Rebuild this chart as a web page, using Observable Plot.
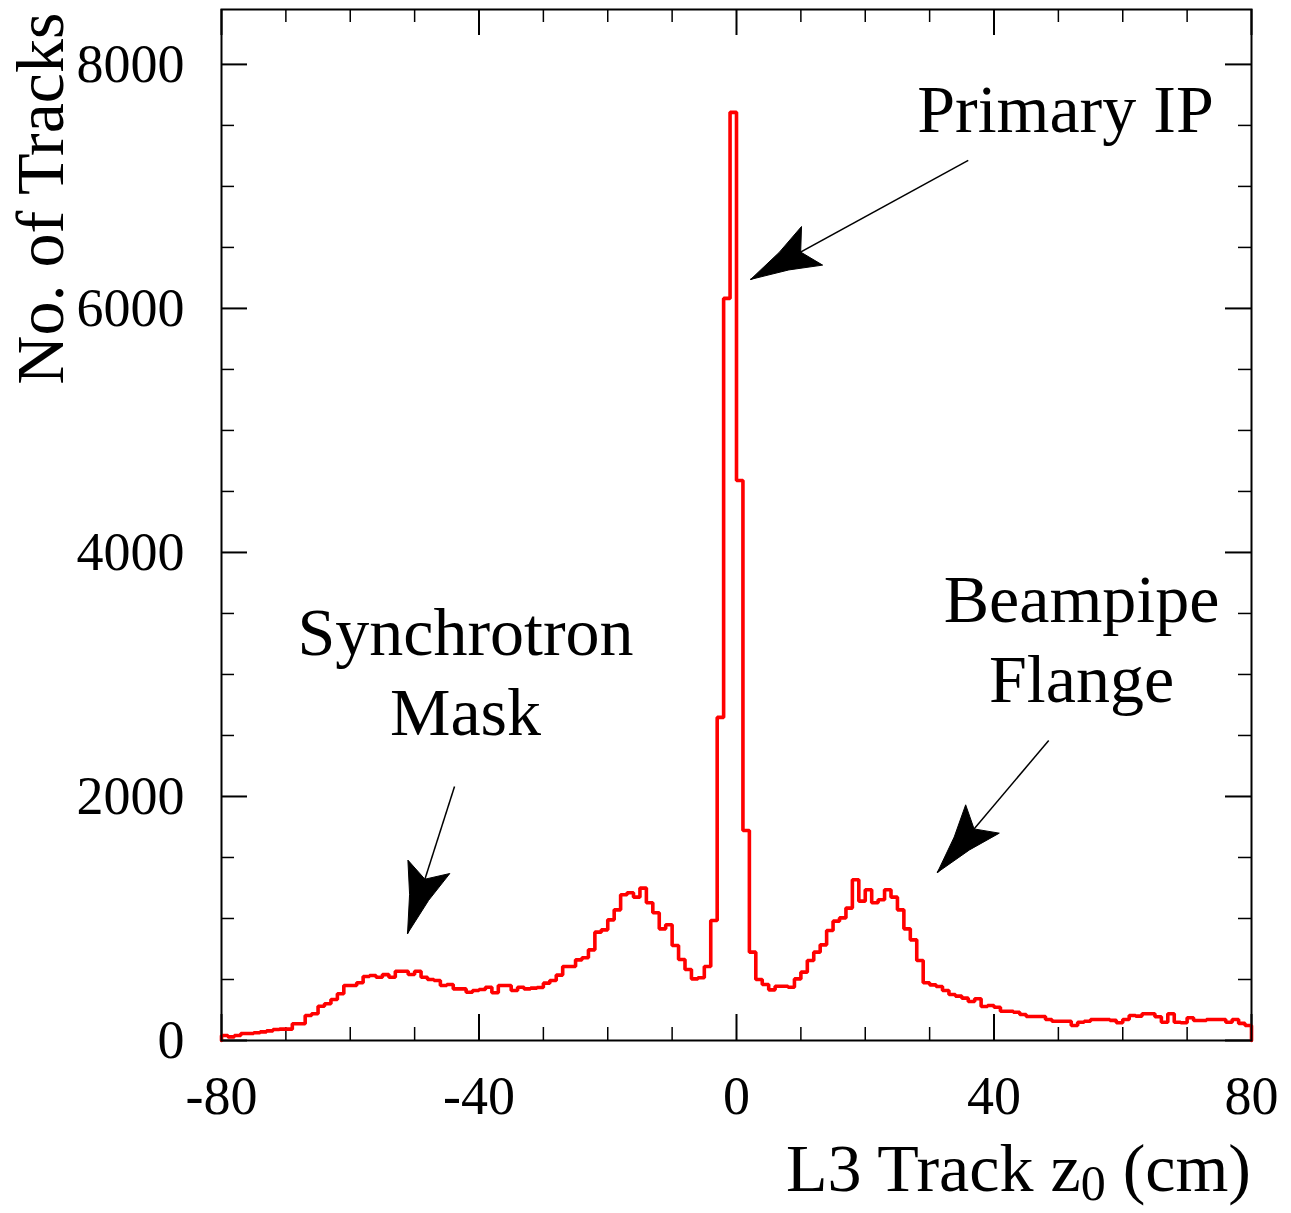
<!DOCTYPE html>
<html>
<head>
<meta charset="utf-8">
<script src="https://cdn.jsdelivr.net/npm/d3@7"></script>
<script src="https://cdn.jsdelivr.net/npm/@observablehq/plot@0.6"></script>
<style>
  body { margin: 0; background: #ffffff; }
  #chart svg { display: block; }
</style>
</head>
<body>
<div id="chart"></div>
<script>
// ---------- data ----------
const binStart = -80;     // cm, left edge of first bin
const binWidth = 1;       // cm
// No. of tracks per 1 cm bin, z0 from -80 to +80 cm
const counts = [
  41, 30, 41, 57, 57, 63, 71, 79, 90, 93,            // -80 .. -71
  93, 137, 137, 205, 219, 281, 301, 336, 383, 451,   // -70 .. -61
  451, 473, 525, 533, 519, 540, 518, 568, 568, 541,  // -60 .. -51
  568, 519, 500, 492, 451, 459, 423, 423, 396, 410,  // -50 .. -41
  418, 437, 391, 451, 451, 410, 437, 423, 429, 435,  // -40 .. -31
  470, 492, 536, 607, 607, 661, 678, 743, 888, 907,  // -30 .. -21
  989, 1071, 1194, 1211, 1175, 1249, 1129, 1047, 915, 949, // -20 .. -11
  779, 664, 582, 505, 514, 607, 984, 2648, 6082, 7607,     // -10 .. -1
  4590, 1721, 724, 500, 459, 415, 445, 445, 437, 505,      //   0 .. 9
  560, 656, 724, 784, 902, 978, 1005, 1085, 1317, 1142,    //  10 .. 19
  1235, 1129, 1153, 1235, 1175, 1071, 915, 825, 656, 473,  //  20 .. 29
  456, 443, 410, 377, 364, 347, 320, 342, 279, 287,  //  30 .. 39
  273, 240, 240, 232, 213, 197, 197, 197, 172, 158,  //  40 .. 49
  158, 158, 123, 150, 158, 172, 172, 172, 165, 145,  //  50 .. 59
  172, 205, 200, 219, 219, 195, 150, 219, 150, 145,  //  60 .. 69
  186, 164, 164, 172, 172, 172, 150, 172, 140, 123   //  70 .. 79
];

const xDomain = [-80, 80];
const yDomain = [0, 8450];
const xMajorTicks = [-80, -40, 0, 40, 80];
const xMinorTicks = [-70, -60, -50, -30, -20, -10, 10, 20, 30, 50, 60, 70];
const yMajorTicks = [0, 2000, 4000, 6000, 8000];
const yMinorTicks = [500, 1000, 1500, 2500, 3000, 3500, 4500, 5000, 5500, 6500, 7000, 7500];

// annotation labels (data coordinates: z0 in cm, number of tracks at text baseline)
const labelText = ["Primary IP", "Synchrotron", "Mask", "Beampipe", "Flange"];
const labelZ    = [51.1, -42.1, -42.1, 53.6, 53.6];
const labelN    = [7443, 3156, 2500, 3426, 2771];

// annotation arrows (tail -> tip, data coordinates)
const arrowTailZ = [36.0, -43.8, 48.5];
const arrowTailN = [7213, 2082, 2459];
const arrowTipZ  = [2.2, -51.1, 31.2];
const arrowTipN  = [6238, 877, 1377];

// ---------- layout ----------
const W = 1291, H = 1213;
const mL = 221, mR = 40, mT = 9, mB = 173;
const innerW = W - mL - mR, innerH = H - mT - mB;
const majorLen = 26, minorLen = 13;
const font = "Liberation Serif, Times New Roman, serif";

// ---------- derived tables ----------
const steps = [{z: binStart, n: 0}];
counts.forEach((c, i) => {
  steps.push({z: binStart + i * binWidth, n: c});
  steps.push({z: binStart + (i + 1) * binWidth, n: c});
});
steps.push({z: binStart + counts.length * binWidth, n: 0});

const labels = labelText.map((t, i) => ({text: t, z: labelZ[i], n: labelN[i]}));
const arrows = arrowTailZ.map((_, i) => ({
  z1: arrowTailZ[i], n1: arrowTailN[i], z2: arrowTipZ[i], n2: arrowTipN[i]
}));

// arrowhead polygons: shape defined in pixels, converted to data units
const pxPerZ = innerW / (xDomain[1] - xDomain[0]);
const pxPerN = innerH / (yDomain[1] - yDomain[0]);
const headShape = [[0, 0], [-38, 10], [-70, 22], [-57, 0], [-70, -22], [-38, -10], [0, 0]]; // [along, across] px
const heads = [];
arrows.forEach((a, id) => {
  const dx = (a.z2 - a.z1) * pxPerZ, dy = -(a.n2 - a.n1) * pxPerN;
  const L = Math.hypot(dx, dy), ux = dx / L, uy = dy / L;
  const nx = -uy, ny = ux;
  headShape.forEach(([al, ac]) => {
    const px = al * ux + ac * nx, py = al * uy + ac * ny;
    heads.push({id, z: a.z2 + px / pxPerZ, n: a.n2 - py / pxPerN});
  });
});

const plot = Plot.plot({
  width: W,
  height: H,
  marginLeft: mL,
  marginRight: mR,
  marginTop: mT,
  marginBottom: mB,
  style: {fontFamily: font, fontSize: "53px", background: "#ffffff", color: "#000000"},
  x: {domain: xDomain},
  y: {domain: yDomain},
  marks: [
    // inward ticks, bottom & top
    Plot.ruleX(xMajorTicks, {x: d => d, insetTop: innerH - majorLen, stroke: "#000", strokeWidth: 2}),
    Plot.ruleX(xMinorTicks, {x: d => d, insetTop: innerH - minorLen, stroke: "#000", strokeWidth: 1.5}),
    Plot.ruleX(xMajorTicks, {x: d => d, insetBottom: innerH - majorLen, stroke: "#000", strokeWidth: 2}),
    Plot.ruleX(xMinorTicks, {x: d => d, insetBottom: innerH - minorLen, stroke: "#000", strokeWidth: 1.5}),
    // inward ticks, left & right
    Plot.ruleY(yMajorTicks, {y: d => d, insetRight: innerW - majorLen, stroke: "#000", strokeWidth: 2}),
    Plot.ruleY(yMinorTicks, {y: d => d, insetRight: innerW - minorLen, stroke: "#000", strokeWidth: 1.5}),
    Plot.ruleY(yMajorTicks, {y: d => d, insetLeft: innerW - majorLen, stroke: "#000", strokeWidth: 2}),
    Plot.ruleY(yMinorTicks, {y: d => d, insetLeft: innerW - minorLen, stroke: "#000", strokeWidth: 1.5}),
    // histogram
    Plot.line(steps, {x: "z", y: "n", stroke: "#ff0000", strokeWidth: 3.6, strokeLinejoin: "miter"}),
    // frame
    Plot.frame({stroke: "#000", strokeWidth: 2}),
    // tick labels
    Plot.axisX({ticks: xMajorTicks, tickSize: 0, tickPadding: 35, fontSize: 54, tickFormat: d => String(d), label: null}),
    Plot.axisY({ticks: yMajorTicks, tickSize: 0, tickPadding: 37, fontSize: 54, tickFormat: d => String(d), label: null}),
    // annotations
    Plot.text(labels, {x: "z", y: "n", text: "text", fontSize: 68, lineAnchor: "bottom", textAnchor: "middle", fill: "#000"}),
    Plot.link(arrows, {x1: "z1", y1: "n1", x2: "z2", y2: "n2", stroke: "#000", strokeWidth: 1.5}),
    Plot.line(heads, {x: "z", y: "n", z: "id", fill: "#000", stroke: "#000", strokeWidth: 1, strokeLinejoin: "round"}),
    // y-axis title
    Plot.text(["No. of Tracks"], {frameAnchor: "top-left", rotate: -90, textAnchor: "end", lineAnchor: "bottom",
      dx: -159, dy: 3, fontSize: 68, fill: "#000"})
  ]
});

// x-axis title with subscript
const svg = d3.select(plot);
const t = svg.append("text")
  .attr("x", W - mR)
  .attr("y", 1191)
  .attr("text-anchor", "end")
  .attr("font-family", font)
  .attr("font-size", 68)
  .attr("fill", "#000");
t.append("tspan").attr("fill", "#000").text("L3 Track z");
t.append("tspan").attr("fill", "#000").attr("font-size", 50).attr("dy", 9).text("0");
t.append("tspan").attr("fill", "#000").attr("dy", -9).text(" (cm)");

document.getElementById("chart").appendChild(plot);
</script>
</body>
</html>
